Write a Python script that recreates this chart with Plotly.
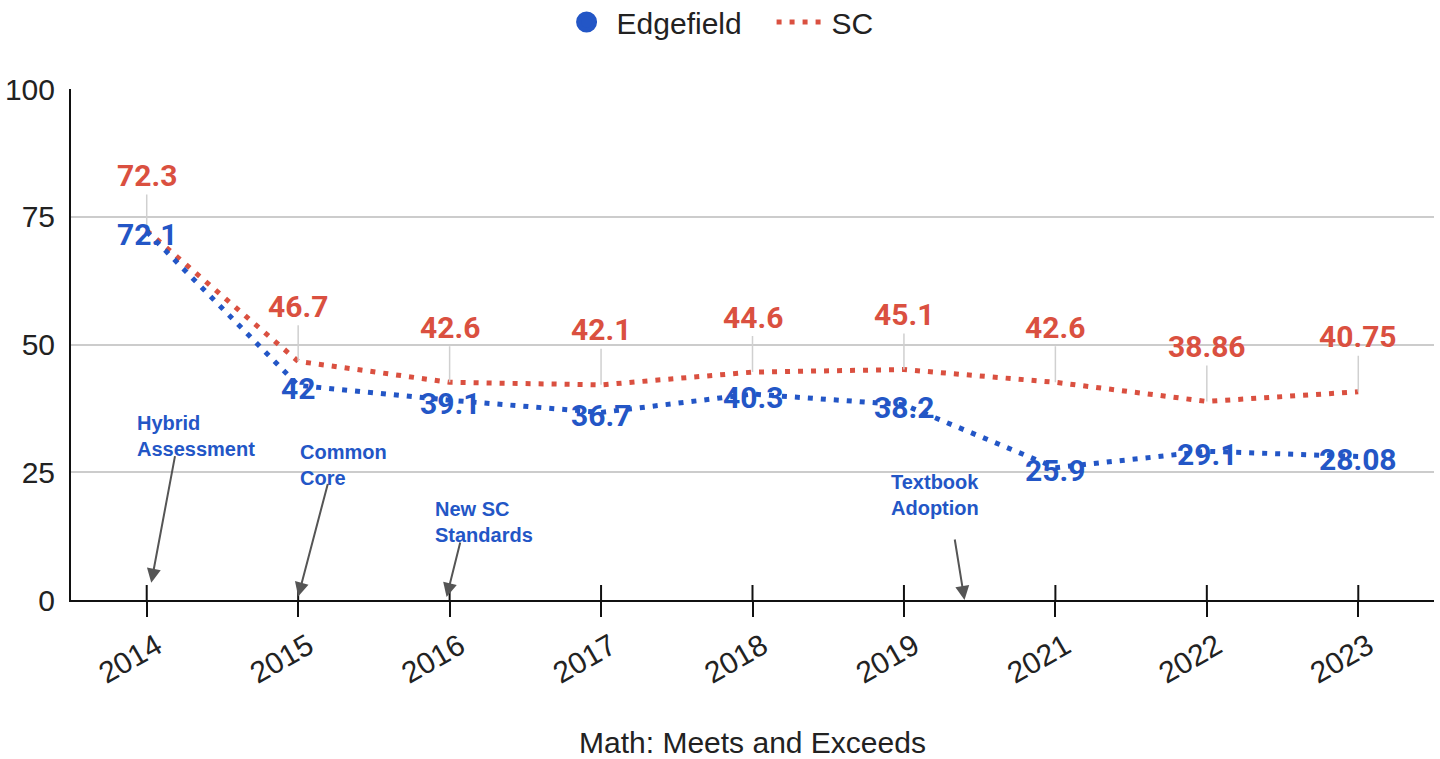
import plotly.graph_objects as go

# School years on the category axis
years = ["2014", "2015", "2016", "2017", "2018", "2019", "2021", "2022", "2023"]

# Percent of students meeting/exceeding in math
edgefield = [72.1, 42, 39.1, 36.7, 40.3, 38.2, 25.9, 29.1, 28.08]
sc_state = [72.3, 46.7, 42.6, 42.1, 44.6, 45.1, 42.6, 38.86, 40.75]

y_ticks = [0, 25, 50, 75, 100]

# Policy milestones: (label, x position in category units, y of text, arrow tip x, arrow tip y, tail dx, tail dy)
events = [
    ("Hybrid<br>Assessment", -0.08, 32.1, 0.03, 3.4, 24, -128),
    ("Common<br>Core", 1.0, 26.4, 1.0, 0.7, 30, -114),
    ("New SC<br>Standards", 1.89, 15.3, 1.98, 0.6, 14, -56),
    ("Textbook<br>Adoption", 4.9, 20.5, 5.4, 0.0, -10, -62),
]

BLUE = "#2356c6"
RED = "#da5040"
AXIS_FONT = "Liberation Sans, Arial, sans-serif"
LABEL_FONT = "Roboto, Arial, sans-serif"

# Evenly spaced slots, one per year
xpos = list(range(len(years)))

fig = go.Figure()

fig.add_trace(go.Scatter(
    x=xpos, y=sc_state, mode="lines", name="SC",
    line=dict(color=RED, width=5, dash="5px,8px"),
    legendrank=2,
))

fig.add_trace(go.Scatter(
    x=xpos, y=edgefield, mode="lines", name="Edgefield",
    line=dict(color=BLUE, width=5, dash="5px,8px"),
    showlegend=False,
))

# Legend entry for Edgefield shown as a filled circle
fig.add_trace(go.Scatter(
    x=[None], y=[None], mode="markers", name="Edgefield",
    marker=dict(color=BLUE, size=26, symbol="circle", line=dict(color=BLUE, width=5)),
    legendrank=1,
))

annotations = []

# State value labels sit above the line with thin leader lines
for xi, v in zip(xpos, sc_state):
    annotations.append(dict(
        x=xi, y=v, xref="x", yref="y",
        text=f"{v:g}", showarrow=True, arrowhead=0, arrowwidth=1.5,
        arrowcolor="#d0d0d0", ax=0, ay=-55, standoff=0,
        font=dict(family=LABEL_FONT, size=30, color=RED, weight="bold"),
    ))

# District value labels are centred on their points
for xi, v in zip(xpos, edgefield):
    annotations.append(dict(
        x=xi, y=v, xref="x", yref="y", text=f"{v:g}", showarrow=False,
        xanchor="center", yanchor="middle", yshift=-3,
        font=dict(family=LABEL_FONT, size=30, color=BLUE, weight="bold"),
    ))

for label, tx, ty, hx, hy, dx, dy in events:
    annotations.append(dict(
        x=tx, y=ty, xref="x", yref="y", text=label, showarrow=False,
        xanchor="left", yanchor="middle", align="left",
        font=dict(family=AXIS_FONT, size=20, color=BLUE, weight="bold"),
    ))
    annotations.append(dict(
        x=hx, y=hy, xref="x", yref="y", text="", showarrow=True,
        arrowhead=2, arrowsize=1.4, arrowwidth=2, arrowcolor="#555555",
        ax=dx, ay=dy, standoff=0,
    ))

# Upper half of each x tick, crossing the axis line
shapes = [
    dict(type="line", xref="x", yref="paper", x0=xi, x1=xi, y0=0, y1=15 / 511,
         line=dict(color="#111111", width=2))
    for xi in xpos
]

fig.update_layout(
    width=1440, height=759,
    margin=dict(l=71, r=6, t=89, b=159, autoexpand=False),
    paper_bgcolor="white", plot_bgcolor="white",
    font=dict(family=AXIS_FONT, color="#222222"),
    annotations=annotations,
    shapes=shapes,
    legend=dict(
        orientation="h", xref="paper", x=0.514, xanchor="center",
        yref="container", y=1 - 22 / 759, yanchor="middle",
        font=dict(size=30, color="#222222"),
        itemwidth=50, entrywidth=150,
    ),
    xaxis=dict(
        range=[-0.5, len(years) - 0.5],
        tickvals=xpos, ticktext=years,
        showline=True, linecolor="#111111", linewidth=2,
        ticks="outside", ticklen=15, tickwidth=2, tickcolor="#111111",
        tickangle=-30, ticklabelshift=10, tickfont=dict(size=30, color="#222222"),
        showgrid=False, zeroline=False,
        title=dict(text="Math: Meets and Exceeds", font=dict(size=30, color="#222222"), standoff=44),
    ),
    yaxis=dict(
        range=[0, 100], tickvals=y_ticks,
        showline=True, linecolor="#111111", linewidth=2,
        showgrid=True, gridcolor="#cccccc", gridwidth=2,
        zeroline=False, ticks="", ticklabelstandoff=8,
        tickfont=dict(size=30, color="#222222"),
    ),
)

fig.write_html("out.html")
